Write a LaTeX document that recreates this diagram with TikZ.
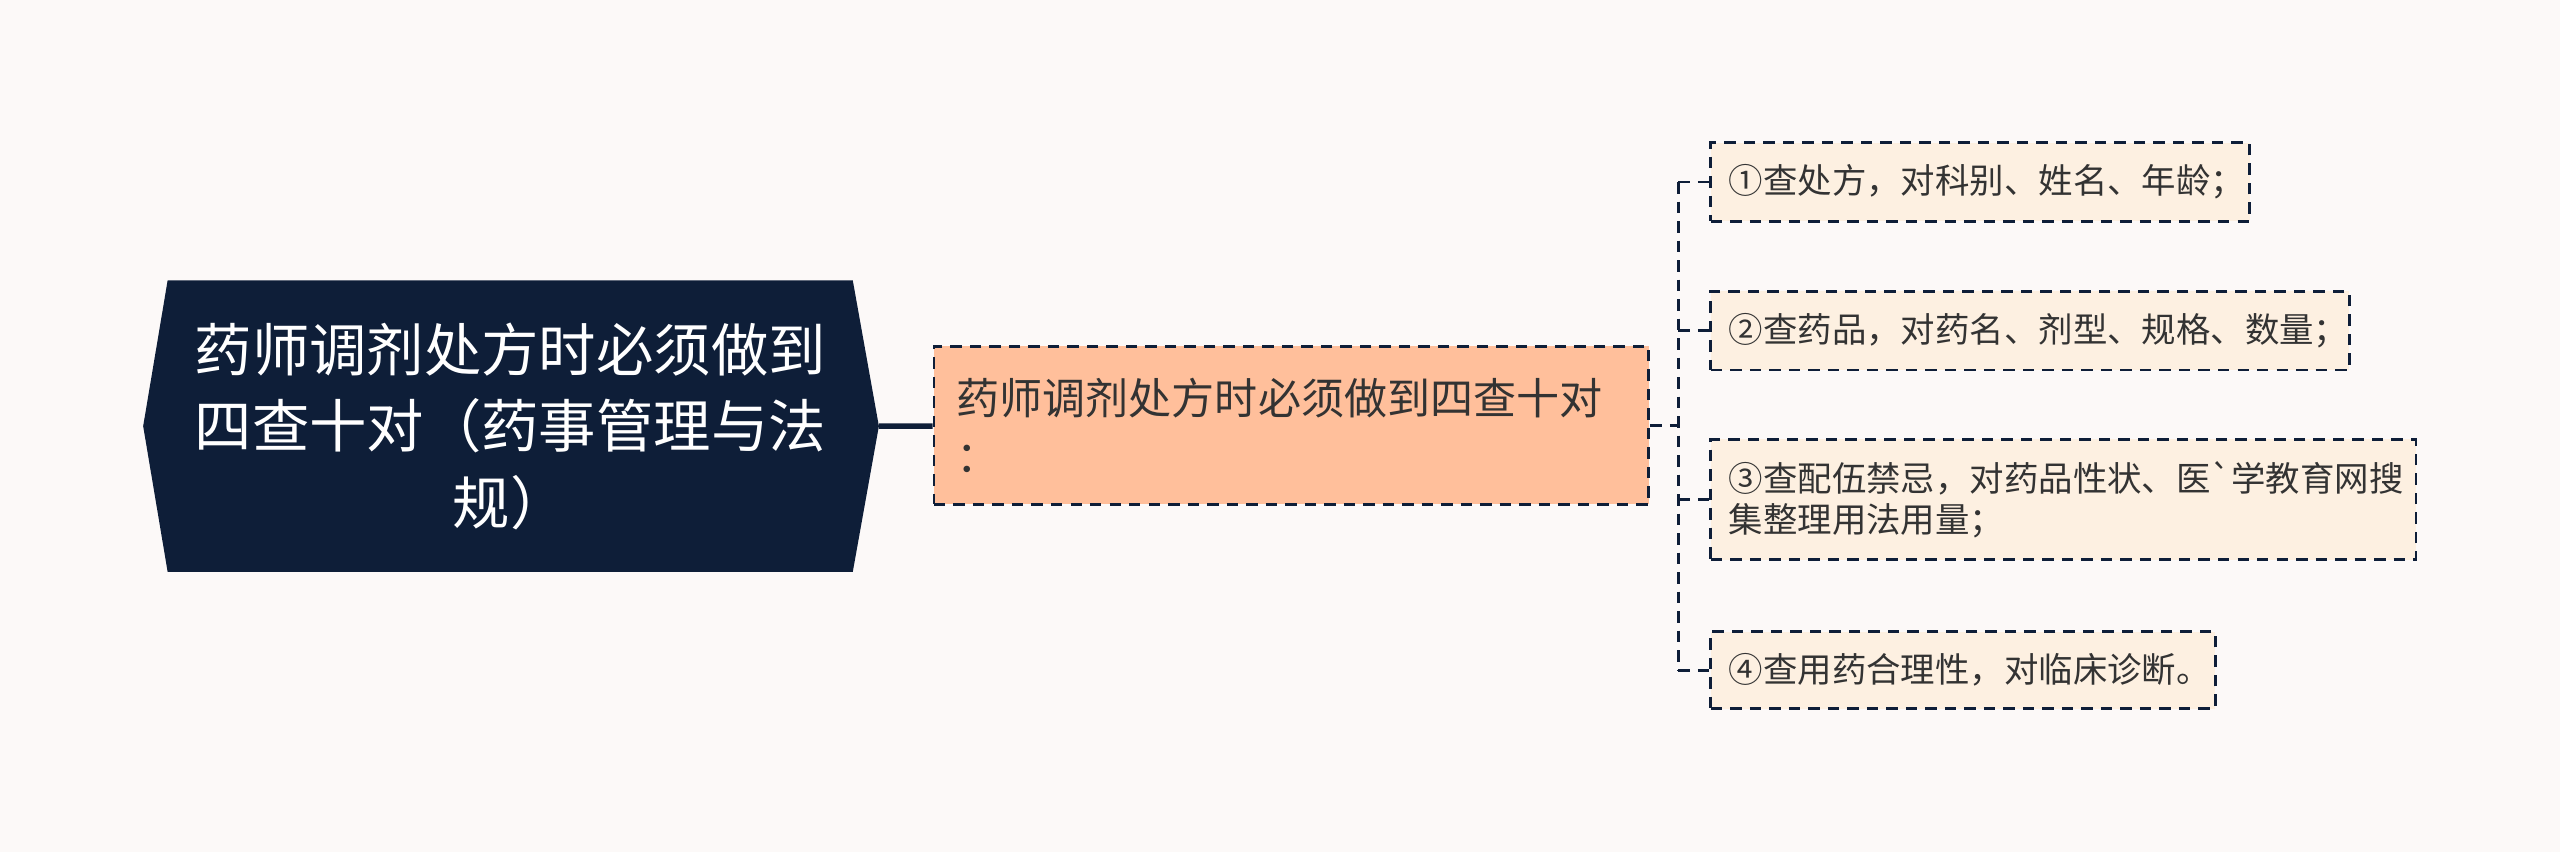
\documentclass[tikz,border=0pt]{standalone}
\usepackage{fontspec}
\newfontfamily\cjk{Noto Sans CJK SC}[Ligatures=TeXOff]
\usetikzlibrary{positioning,backgrounds}
\definecolor{pagebg}{RGB}{252,249,248}
\definecolor{navy}{RGB}{14,30,56}
\definecolor{midfill}{RGB}{255,191,155}
\definecolor{leaffill}{RGB}{253,240,225}
\definecolor{inkgray}{RGB}{51,51,51}

\begin{document}
\begin{tikzpicture}[x=0.02cm, y=-0.02cm, every node/.style={font=\cjk},
    rootbox/.style={text=white, align=center, inner sep=0pt,
        minimum width=8.38cm, minimum height=3.56cm,
        font=\cjk\fontsize{20pt}{26.7pt}\selectfont},
    midbox/.style={draw=navy, line width=1pt, dash pattern=on 4pt off 2.8pt,
        fill=midfill, text=inkgray, align=left, text width=8.2cm,
        inner xsep=0.28cm, minimum height=1.94cm,
        font=\cjk\fontsize{15pt}{20pt}\selectfont},
    leafbox/.style={draw=navy, line width=1pt, dash pattern=on 4pt off 2.8pt,
        fill=leaffill, text=inkgray, align=left, anchor=west,
        inner xsep=0.22cm, inner ysep=0.27cm, minimum height=0.94cm,
        font=\cjk\fontsize{12pt}{14.2pt}\selectfont},
    rootlink/.style={draw=navy, line width=1.9pt},
    dashlink/.style={draw=navy, line width=1pt, dash pattern=on 4pt off 2.8pt}]
    \useasboundingbox (0,0) rectangle (1568,522);

    % Root topic
    \node[rootbox] (root) at (312.5,261) {药师调剂处方时必须做到\\四查十对（药事管理与法\\规）};
    \coordinate (root tip) at ([xshift=0.32cm]root.east);

    % Main branch
    \node[midbox] (mid) at (791,260.5) {药师调剂处方时必须做到四查十对\\：};
    \draw[rootlink] (root tip) -- (mid);
    \coordinate (fork) at (1028,260.5);
    \draw[dashlink] (mid.east) -- (fork);

    % Leaves
    \foreach \i/\y/\w/\txt in {1/111.5/6.16cm/{①查处方，对科别、姓名、年龄；},
        2/202.5/7.38cm/{②查药品，对药名、剂型、规格、数量；},
        3/306/8.2cm/{③查配伍禁忌，对药品性状、医`学教育网搜\\集整理用法用量；},
        4/410.5/5.74cm/{④查用药合理性，对临床诊断。}} {
        \node[leafbox, text width=\w] (leaf\i) at (1047,\y) {\txt};
        \draw[dashlink] (fork |- leaf\i.west) -- (leaf\i.west);
    }
    \draw[dashlink] (fork |- leaf1.west) -- (fork |- leaf4.west);

    % Background and root shape
    \begin{scope}[on background layer]
        \fill[pagebg] (0,0) rectangle (1568,522);
        \fill[navy] (root.north west) -- (root.north east) -- (root tip)
            -- (root.south east) -- (root.south west)
            -- ([xshift=-0.3cm]root.west) -- cycle;
    \end{scope}
\end{tikzpicture}
\end{document}
